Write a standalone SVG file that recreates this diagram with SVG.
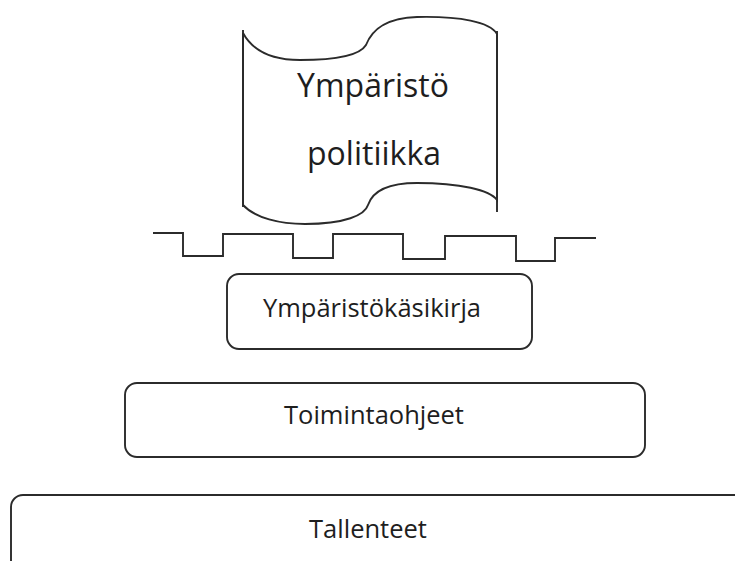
<svg xmlns="http://www.w3.org/2000/svg" width="735" height="561" viewBox="0 0 735 561">
  <style>
    .shape { fill: #ffffff; stroke: #2b2b2b; stroke-width: 1.9; }
    .line { fill: none; stroke: #2b2b2b; stroke-width: 1.9; stroke-linejoin: miter; }
    .lbl { font-family: "Open Sans", "Noto Sans", sans-serif; fill: #1e1e1e; text-anchor: middle; }
  </style>
  <rect width="735" height="561" fill="#ffffff"/>
  <g id="policy">
    <path class="shape" d="M243,33 C255,55 280,60 300,60 C340,60 360,55 366,45 C372,30 385,18 417,17 C460,16 490,22 497,34 L497,200 C490,190 460,183 417,183 C390,183 373,190 368,205 C365,215 345,224 305,224 C280,224 255,218 243,205 Z"/>
    <path class="line" d="M243,30 L243,207 M497,31 L497,212"/>
    <text class="lbl" x="373" y="97" font-size="32">Ympäristö</text>
    <text class="lbl" x="374" y="165" font-size="32">politiikka</text>
  </g>
  <g id="connectors">
    <polyline class="line" points="153,233 183,233 183,256 223,256 223,234 293,234 293,258 333,258 333,234 403,234 403,259 445,259 445,236 516,236 516,261 555,261 555,238 596,238"/>
  </g>
  <g id="manual">
    <rect class="shape" x="227" y="274" width="305" height="75" rx="12"/>
    <text class="lbl" x="372" y="317" font-size="25.5">Ympäristökäsikirja</text>
  </g>
  <g id="instructions">
    <rect class="shape" x="125" y="383" width="520" height="74" rx="12"/>
    <text class="lbl" x="374" y="424" font-size="25.5">Toimintaohjeet</text>
  </g>
  <g id="records">
    <rect class="shape" x="11" y="495" width="740" height="90" rx="12"/>
    <text class="lbl" x="368" y="538" font-size="25.5">Tallenteet</text>
  </g>
</svg>
